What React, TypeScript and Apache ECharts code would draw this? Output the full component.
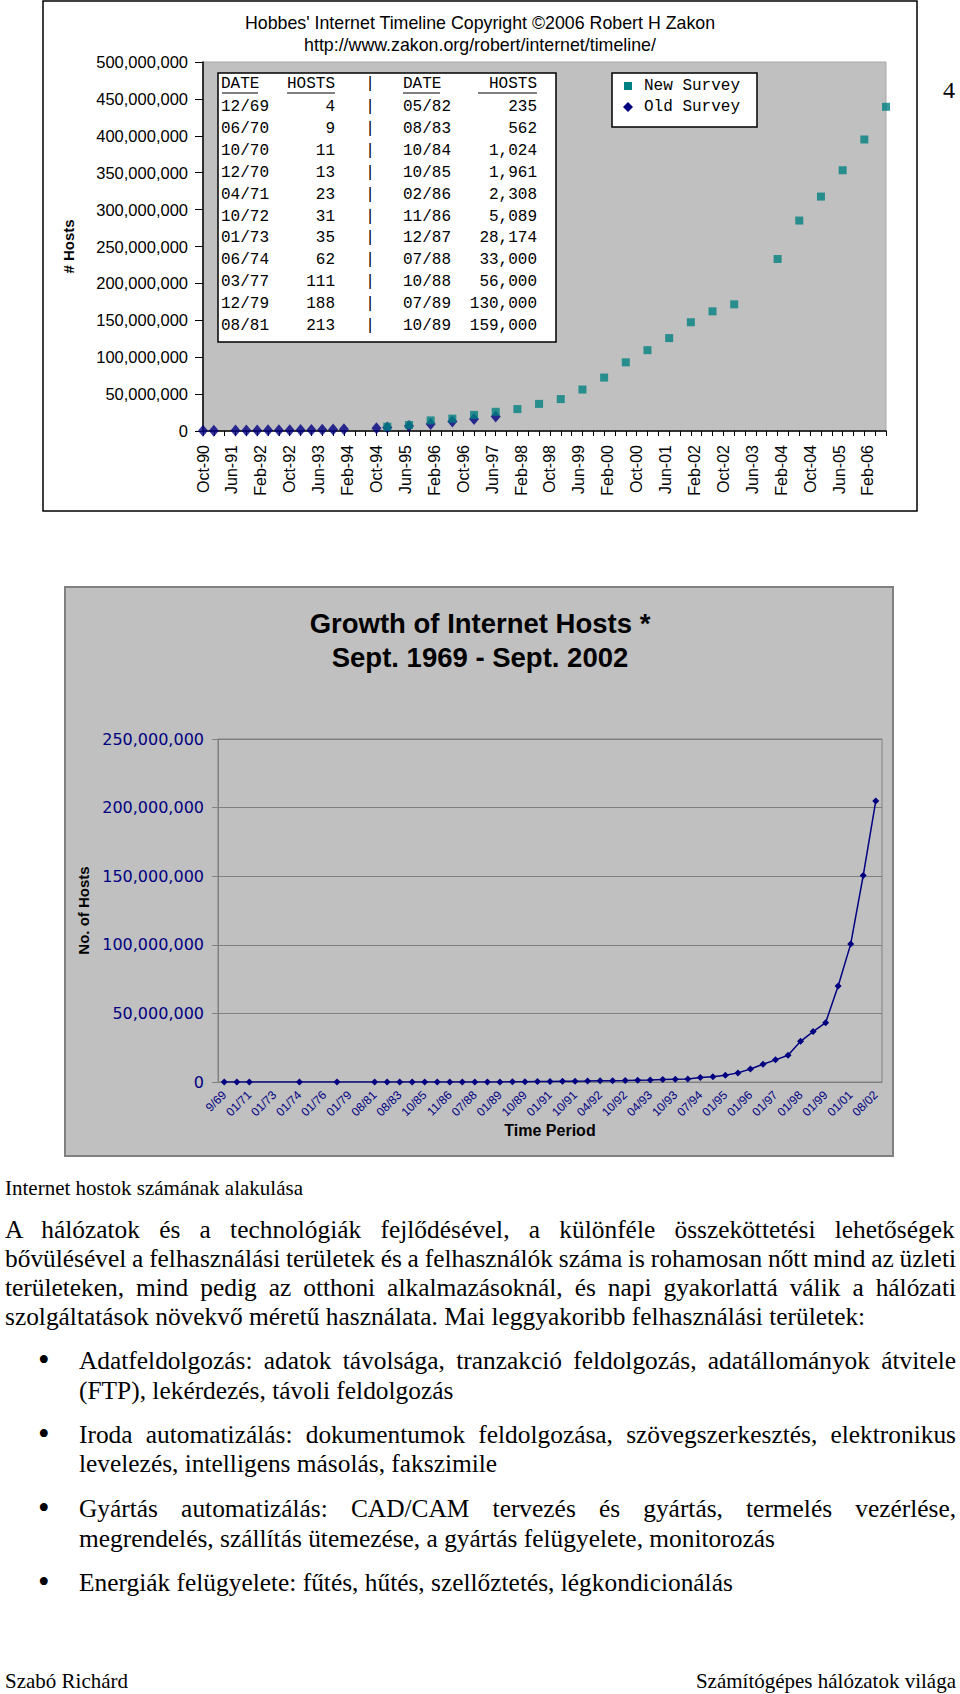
import React, { useEffect, useRef } from "react";
import * as echarts from "echarts";

// ---------- Top chart (Hobbes' Internet Timeline) ----------
const topTitle1 = "Hobbes' Internet Timeline Copyright ©2006 Robert H Zakon";
const topTitle2 = "http://www.zakon.org/robert/internet/timeline/";
const topStart = "1990-10"; // first month of the date axis
const topEnd = "2006-07";
const newSurveyDates = ["1995-01","1995-07","1996-01","1996-07","1997-01","1997-07","1998-01","1998-07","1999-01","1999-07","2000-01","2000-07","2001-01","2001-07","2002-01","2002-07","2003-01","2004-01","2004-07","2005-01","2005-07","2006-01","2006-07"];
const newSurveyHosts = [5846000,8200000,14352000,16729000,21819000,26053000,29670000,36739000,43230000,56218000,72398000,93047000,109574000,125888000,147344000,162128000,171638000,233101000,285139000,317646000,353284000,394991000,439286000];
const oldSurveyDates = ["1990-10","1991-01","1991-07","1991-10","1992-01","1992-04","1992-07","1992-10","1993-01","1993-04","1993-07","1993-10","1994-01","1994-10","1995-01","1995-07","1996-01","1996-07","1997-01","1997-07"];
const oldSurveyHosts = [313000,376000,535000,617000,727000,890000,992000,1136000,1313000,1486000,1776000,2056000,2217000,3864000,4852000,6642000,9472000,12881000,16146000,19540000];
const tableLeftDates = ["12/69","06/70","10/70","12/70","04/71","10/72","01/73","06/74","03/77","12/79","08/81"];
const tableLeftHosts = ["4","9","11","13","23","31","35","62","111","188","213"];
const tableRightDates = ["05/82","08/83","10/84","10/85","02/86","11/86","12/87","07/88","10/88","07/89","10/89"];
const tableRightHosts = ["235","562","1,024","1,961","2,308","5,089","28,174","33,000","56,000","130,000","159,000"];
const legendNames = ["New Survey", "Old Survey"];
const monthNames = ["Jan","Feb","Mar","Apr","May","Jun","Jul","Aug","Sep","Oct","Nov","Dec"];

// ---------- Bottom chart (Growth of Internet Hosts) ----------
const growthTitle1 = "Growth of Internet Hosts *";
const growthTitle2 = "Sept. 1969 - Sept. 2002";
const growthCategories = ["9/69","06/70","01/71","01/72","01/73","07/73","01/74","01/75","01/76","03/77","01/79","01/80","08/81","05/82","08/83","10/84","10/85","02/86","11/86","12/87","07/88","10/88","01/89","07/89","10/89","10/90","01/91","07/91","10/91","01/92","04/92","07/92","10/92","01/93","04/93","07/93","10/93","01/94","07/94","10/94","01/95","07/95","01/96","07/96","01/97","07/97","01/98","07/98","01/99","07/99","01/01","07/01","08/02"];
const growthHosts: (number | null)[] = [4,13,23,null,null,null,62,null,null,111,null,null,213,235,562,1024,1961,2308,5089,28174,33000,56000,80000,130000,159000,313000,376000,535000,617000,727000,890000,992000,1136000,1313000,1486000,1776000,2056000,2217000,3212000,3864000,4852000,6642000,9472000,12881000,16146000,19540000,29670000,36739000,43230000,70000000,100500000,150500000,204800000];

// ---------- Page text ----------
const caption = "Internet hostok számának alakulása";
const paragraphLines = [
  "A hálózatok és a technológiák fejlődésével, a különféle összeköttetési lehetőségek",
  "bővülésével a felhasználási területek és a felhasználók száma is rohamosan nőtt mind az üzleti",
  "területeken, mind pedig az otthoni alkalmazásoknál, és napi gyakorlattá válik a hálózati",
  "szolgáltatások növekvő méretű használata. Mai leggyakoribb felhasználási területek:",
];
const bullets = [
  ["Adatfeldolgozás: adatok távolsága, tranzakció feldolgozás, adatállományok átvitele", "(FTP), lekérdezés, távoli feldolgozás"],
  ["Iroda automatizálás: dokumentumok feldolgozása, szövegszerkesztés, elektronikus", "levelezés, intelligens másolás, fakszimile"],
  ["Gyártás automatizálás: CAD/CAM tervezés és gyártás, termelés vezérlése,", "megrendelés, szállítás ütemezése, a gyártás felügyelete, monitorozás"],
  ["Energiák felügyelete: fűtés, hűtés, szellőztetés, légkondicionálás"],
];
const footerLeft = "Szabó Richárd";
const footerRight = "Számítógépes hálózatok világa";
const pageNumber = "4";

const monthIndex = (d: string) => {
  const [y, m] = d.split("-").map(Number);
  const [y0, m0] = topStart.split("-").map(Number);
  return (y - y0) * 12 + (m - m0);
};
const fmtNum = (v: number) => Math.round(v).toLocaleString("en-US");
const monthLabel = (v: number) => {
  if (v % 8 !== 0) return "";
  const [y0, m0] = topStart.split("-").map(Number);
  const total = (m0 - 1) + v;
  const y = y0 + Math.floor(total / 12);
  const m = total % 12;
  return monthNames[m] + "-" + String(y % 100).padStart(2, "0");
};

const SANS = "Liberation Sans";
const MONO = "Liberation Mono";

function buildGraphics() {
  const g: any[] = [];
  g.push({ type: "rect", z: -20, shape: { x: 43, y: 1, width: 874, height: 510 }, style: { fill: "#fff", stroke: "#000", lineWidth: 1.5 } });
  g.push({ type: "text", z: 50, x: 480, y: 23, style: { text: topTitle1, fill: "#000", fontSize: 17.8, fontFamily: SANS, textAlign: "center", textVerticalAlign: "middle" } });
  g.push({ type: "text", z: 50, x: 480, y: 45, style: { text: topTitle2, fill: "#000", fontSize: 17.8, fontFamily: SANS, textAlign: "center", textVerticalAlign: "middle" } });
  g.push({ type: "rect", z: 50, shape: { x: 218, y: 73, width: 338, height: 269 }, style: { fill: "#fff", stroke: "#000", lineWidth: 1.5 } });
  const tstyle = (text: string, align: string) => ({ text, fill: "#000", fontSize: 16, fontFamily: MONO, textAlign: align, textVerticalAlign: "middle" });
  g.push({ type: "text", z: 51, x: 221, y: 84, style: tstyle("DATE", "left") });
  g.push({ type: "text", z: 51, x: 335, y: 84, style: tstyle("HOSTS", "right") });
  g.push({ type: "text", z: 51, x: 370, y: 84, style: tstyle("|", "center") });
  g.push({ type: "text", z: 51, x: 403, y: 84, style: tstyle("DATE", "left") });
  g.push({ type: "text", z: 51, x: 537, y: 84, style: tstyle("HOSTS", "right") });
  [[222, 258], [287, 335], [403, 440], [478, 537]].forEach(([a, b]) =>
    g.push({ type: "line", z: 51, shape: { x1: a, y1: 93, x2: b, y2: 93 }, style: { stroke: "#000", lineWidth: 1 } })
  );
  tableLeftDates.forEach((d, i) => {
    const y = 107 + i * 21.9;
    g.push({ type: "text", z: 51, x: 221, y, style: tstyle(d, "left") });
    g.push({ type: "text", z: 51, x: 335, y, style: tstyle(tableLeftHosts[i], "right") });
    g.push({ type: "text", z: 51, x: 370, y, style: tstyle("|", "center") });
    g.push({ type: "text", z: 51, x: 403, y, style: tstyle(tableRightDates[i], "left") });
    g.push({ type: "text", z: 51, x: 537, y, style: tstyle(tableRightHosts[i], "right") });
  });
  g.push({ type: "rect", z: 50, shape: { x: 612, y: 73, width: 145, height: 54 }, style: { fill: "#fff", stroke: "#000", lineWidth: 1.5 } });
  g.push({ type: "rect", z: 51, shape: { x: 624, y: 82, width: 8, height: 8 }, style: { fill: "#008080" } });
  g.push({ type: "polygon", z: 51, shape: { points: [[628, 102], [633, 107], [628, 112], [623, 107]] }, style: { fill: "#000080" } });
  g.push({ type: "text", z: 51, x: 644, y: 86, style: tstyle(legendNames[0], "left") });
  g.push({ type: "text", z: 51, x: 644, y: 107, style: tstyle(legendNames[1], "left") });

  g.push({ type: "rect", z: -20, shape: { x: 65, y: 587, width: 828, height: 569 }, style: { fill: "#c0c0c0", stroke: "#808080", lineWidth: 2 } });
  g.push({ type: "text", z: 50, x: 480, y: 623, style: { text: growthTitle1, fill: "#000", fontSize: 27.5, fontWeight: "bold", fontFamily: SANS, textAlign: "center", textVerticalAlign: "middle" } });
  g.push({ type: "text", z: 50, x: 480, y: 657, style: { text: growthTitle2, fill: "#000", fontSize: 27.5, fontWeight: "bold", fontFamily: SANS, textAlign: "center", textVerticalAlign: "middle" } });
  return g;
}

function buildOption() {
  return {
    animation: false,
    graphic: buildGraphics(),
    grid: [
      { left: 203, top: 62, width: 683, height: 369, show: true, backgroundColor: "#c0c0c0", borderColor: "#a8a8a8", borderWidth: 1, z: 0 },
      { left: 218, top: 739, width: 664, height: 343, show: true, backgroundColor: "transparent", borderColor: "#808080", borderWidth: 1 },
    ],
    xAxis: [
      {
        gridIndex: 0, type: "value", position: "bottom", min: 0, max: monthIndex(topEnd), interval: 8,
        axisLine: { show: true, onZero: false, lineStyle: { color: "#000", width: 1.5 } },
        axisTick: { show: false }, splitLine: { show: false },
        axisLabel: { rotate: 90, margin: 14, color: "#000", fontSize: 16, fontFamily: SANS, showMaxLabel: false, formatter: (v: number) => monthLabel(v) },
      },
      {
        gridIndex: 0, type: "value", position: "bottom", min: 0, max: monthIndex(topEnd), interval: 3,
        axisLine: { show: false }, axisTick: { show: true, length: 5, lineStyle: { color: "#000" } },
        axisLabel: { show: false }, splitLine: { show: false },
      },
      {
        gridIndex: 1, type: "category", position: "bottom", data: growthCategories, boundaryGap: true,
        axisLine: { lineStyle: { color: "#808080" } },
        axisTick: { interval: 0, length: 5, lineStyle: { color: "#808080" } },
        axisLabel: { interval: 1, rotate: 45, color: "#000080", fontSize: 12, fontFamily: SANS, margin: 11 },
        name: "Time Period", nameLocation: "middle", nameGap: 40,
        nameTextStyle: { color: "#000", fontSize: 16, fontWeight: "bold", fontFamily: SANS },
      },
    ],
    yAxis: [
      {
        gridIndex: 0, type: "value", min: 0, max: 500000000, interval: 50000000,
        axisLine: { show: true, lineStyle: { color: "#000", width: 1.5 } },
        axisTick: { show: true, length: 8, lineStyle: { color: "#000" } },
        splitLine: { show: false },
        axisLabel: { color: "#000", fontSize: 16.5, fontFamily: SANS, margin: 15, formatter: fmtNum },
        name: "# Hosts", nameLocation: "middle", nameGap: 127, nameRotate: 90,
        nameTextStyle: { color: "#000", fontSize: 15, fontWeight: "bold", fontFamily: SANS },
      },
      {
        gridIndex: 1, type: "value", min: 0, max: 250000000, interval: 50000000,
        axisLine: { show: true, lineStyle: { color: "#808080" } },
        axisTick: { show: true, length: 6, lineStyle: { color: "#808080" } },
        splitLine: { show: true, lineStyle: { color: "#808080", width: 1.2 } },
        axisLabel: { color: "#000080", fontSize: 16, fontFamily: "DejaVu Sans", margin: 14, formatter: fmtNum },
        name: "No. of Hosts", nameLocation: "middle", nameGap: 124, nameRotate: 90,
        nameTextStyle: { color: "#000", fontSize: 15, fontWeight: "bold", fontFamily: SANS },
      },
    ],
    series: [
      {
        name: "Old Survey", type: "scatter", xAxisIndex: 0, yAxisIndex: 0, symbol: "diamond", symbolSize: [10, 12],
        itemStyle: { color: "#000080" }, z: 3,
        data: oldSurveyDates.map((d, i) => [monthIndex(d), oldSurveyHosts[i]]),
      },
      {
        name: "New Survey", type: "scatter", xAxisIndex: 0, yAxisIndex: 0, symbol: "rect", symbolSize: 8,
        itemStyle: { color: "#008080" }, z: 4,
        data: newSurveyDates.map((d, i) => [monthIndex(d), newSurveyHosts[i]]),
      },
      {
        name: "Hosts", type: "line", xAxisIndex: 2, yAxisIndex: 1, data: growthHosts, connectNulls: true,
        symbol: "diamond", symbolSize: 7, showSymbol: true, showAllSymbol: true,
        lineStyle: { color: "#000080", width: 1.5 }, itemStyle: { color: "#000080" },
      },
    ],
  };
}

const SERIF_NAME = "Liberation Serif";
const SERIF = '"Liberation Serif", "Times New Roman", serif';
const LH = 29;
const BODY = 25.4;

let measureCtx: CanvasRenderingContext2D | null = null;
function textWidth(text: string, size: number) {
  if (!measureCtx) measureCtx = document.createElement("canvas").getContext("2d");
  if (!measureCtx) return 0;
  measureCtx.font = `${size}px "${SERIF_NAME}"`;
  return measureCtx.measureText(text).width;
}

function Line({ text, top, left, width, justify, size = BODY }: any) {
  let ws = 0;
  if (justify) {
    const n = (text.match(/ /g) || []).length;
    if (n > 0) ws = (width - textWidth(text, size)) / n;
  }
  return (
    <div
      style={{
        position: "absolute", top, left, width, fontSize: size, lineHeight: LH + "px",
        whiteSpace: "nowrap", color: "#000", wordSpacing: ws + "px",
      }}
    >
      {text}
    </div>
  );
}

export default function App() {
  const ref = useRef<HTMLDivElement>(null);
  useEffect(() => {
    document.body.style.margin = "0";
    const chart = echarts.init(ref.current!, undefined, { renderer: "svg" });
    chart.setOption(buildOption() as any);
    return () => chart.dispose();
  }, []);

  const paraY = [1229, 1258, 1287, 1316];
  const bulletY = [[1360, 1390], [1434, 1463], [1508, 1538], [1582]];
  const off = -LH / 2;

  return (
    <div style={{ position: "relative", width: 960, height: 1694, background: "#fff", fontFamily: SERIF, overflow: "hidden" }}>
      <div ref={ref} style={{ position: "absolute", left: 0, top: 0, width: 960, height: 1170 }} />
      <div style={{ position: "absolute", left: 943, top: 90 - 15, fontSize: 24, lineHeight: "30px" }}>{pageNumber}</div>
      <Line text={caption} top={1188 + off} left={5} width={600} size={21} />
      {paragraphLines.map((t, i) => (
        <Line key={i} text={t} top={paraY[i] + off} left={5} width={951} justify={i < paragraphLines.length - 1} />
      ))}
      {bullets.map((lines, bi) => (
        <React.Fragment key={bi}>
          <div style={{ position: "absolute", left: 38, top: bulletY[bi][0] + off, fontSize: 33, lineHeight: LH + "px" }}>•</div>
          {lines.map((t, li) => (
            <Line key={li} text={t} top={bulletY[bi][li] + off} left={79} width={877} justify={li < lines.length - 1} />
          ))}
        </React.Fragment>
      ))}
      <Line text={footerLeft} top={1681 + off} left={5} width={300} size={21} />
      <div style={{ position: "absolute", right: 4, top: 1681 + off, fontSize: 21, lineHeight: LH + "px" }}>{footerRight}</div>
    </div>
  );
}
